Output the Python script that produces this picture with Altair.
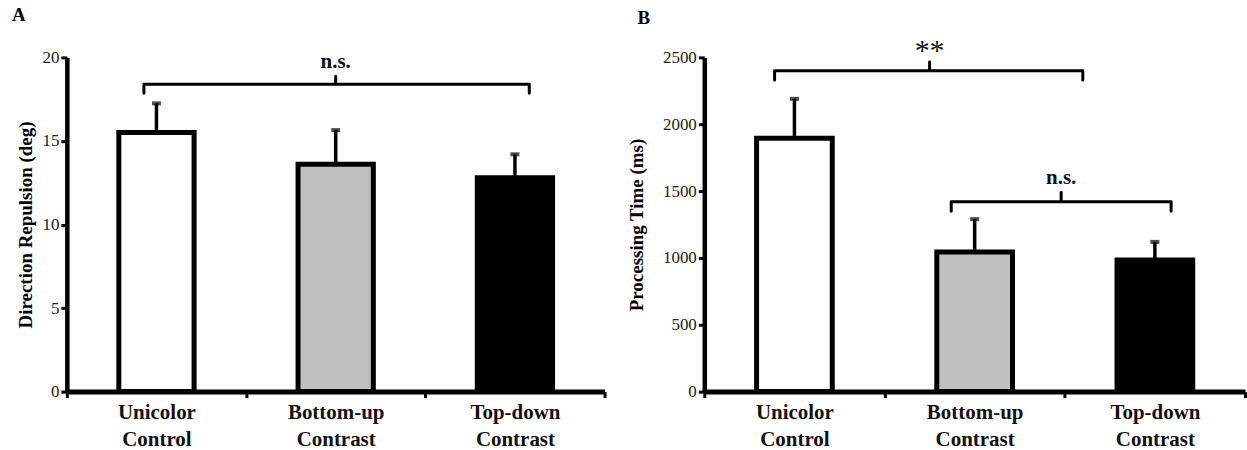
import altair as alt
import pandas as pd

# Conditions shown on the x axis of both panels
conditions = ["Unicolor Control", "Bottom-up Contrast", "Top-down Contrast"]
fills = ["#ffffff", "#c0c0c0", "#000000"]

# Panel A: direction repulsion (deg), mean and SEM
repulsion_mean = [15.5, 13.6, 12.8]
repulsion_sem = [1.75, 2.05, 1.4]

# Panel B: processing time (ms), mean and SEM
time_mean = [1895, 1045, 985]
time_sem = [295, 245, 135]

# Significance brackets: left, right, centre (in condition units), level, drop, tip, text y, label
brackets_a = [dict(left=0.43, right=2.58, center=1.5, level=18.4, drop=17.85, tip=18.85,
                   text_y=19.75, label="n.s.")]
brackets_b = [dict(left=0.39, right=2.1, center=1.25, level=2400, drop=2330, tip=2465,
                   text_y=2545, label="**"),
              dict(left=1.37, right=2.59, center=1.98, level=1420, drop=1350, tip=1490,
                   text_y=1595, label="n.s.")]

BAR_HALF = 0.21
SERIF = "Liberation Serif"


def bar_frame(means, sems):
    rows = []
    for i, (name, m, s, f) in enumerate(zip(conditions, means, sems, fills)):
        rows.append(dict(cond=name, lo=i + 0.5 - BAR_HALF, hi=i + 0.5 + BAR_HALF,
                         mid=i + 0.5, mean=m, top=m + s, fill=f))
    return pd.DataFrame(rows)


def bracket_frame(brackets):
    rows = []
    for k, b in enumerate(brackets):
        path = [(b["left"], b["drop"]), (b["left"], b["level"]), (b["center"], b["level"]),
                (b["center"], b["tip"]), (b["center"], b["level"]), (b["right"], b["level"]),
                (b["right"], b["drop"])]
        for j, (x, y) in enumerate(path):
            rows.append(dict(k=k, order=j, x=x, y=y))
    return pd.DataFrame(rows)


def label_expr():
    parts = []
    for i, name in enumerate(conditions):
        words = name.split(" ")
        parts.append(f"datum.value == {i + 0.5} ? ['{words[0]}', '{words[1]}']")
    return " : ".join(parts) + " : ''"


def panel(means, sems, brackets, y_title, y_max, y_step, letter, title_pad, width,
          title_offset, title_dx):
    bars = bar_frame(means, sems)
    br = bracket_frame(brackets)
    txt = pd.DataFrame(brackets)

    x_axis = alt.Axis(
        values=[0, 0.5, 1, 1.5, 2, 2.5, 3],
        labelExpr=label_expr(),
        tickOpacity={"condition": {"test": "datum.value % 1 != 0", "value": 0}, "value": 1},
        title=None,
        labelFont=SERIF, labelFontSize=21, labelFontWeight="bold", labelColor="#111",
        labelLineHeight=27, labelPadding=4, labelBaseline="top",
        tickSize=6, tickWidth=3, tickColor="black",
        domainWidth=5, domainColor="black", grid=False, labelFlush=False,
        labelOverlap=False,
    )
    y_axis = alt.Axis(
        values=list(range(0, y_max + 1, y_step)), title=y_title, format="d",
        labelFont=SERIF, labelFontSize=17, labelColor="#222", labelPadding=2,
        titleFont=SERIF, titleFontSize=19, titleFontWeight="bold", titleColor="black",
        titlePadding=title_pad,
        tickSize=6, tickWidth=3, tickColor="black",
        domainWidth=4.5, domainColor="black", grid=False,
    )
    xs = alt.Scale(domain=[0, 3], nice=False, zero=False)
    ys = alt.Scale(domain=[0, y_max], nice=False)

    rect = alt.Chart(bars).mark_bar(stroke="black", strokeWidth=5).encode(
        x=alt.X("lo:Q", scale=xs, axis=x_axis),
        x2="hi:Q",
        y=alt.Y("mean:Q", scale=ys, axis=y_axis),
        y2=alt.datum(0),
        fill=alt.Fill("fill:N", scale=None),
    )
    err = alt.Chart(bars).mark_rule(color="black", strokeWidth=3.5).encode(
        x="mid:Q", y="mean:Q", y2="top:Q"
    )
    cap = alt.Chart(bars).mark_tick(color="black", orient="horizontal", size=9, thickness=4).encode(
        x="mid:Q", y="top:Q"
    )
    lines = alt.Chart(br).mark_line(color="black", strokeWidth=3, strokeJoin="round",
                                    strokeCap="round").encode(
        x="x:Q", y="y:Q", detail="k:N", order="order:Q"
    )
    ns = alt.Chart(txt[txt["label"] != "**"]).mark_text(
        font=SERIF, fontSize=21, fontWeight="bold", color="#111", baseline="middle"
    ).encode(x="center:Q", y="text_y:Q", text="label:N")
    stars = alt.Chart(txt[txt["label"] == "**"]).mark_text(
        font=SERIF, fontSize=30, color="#111", baseline="middle"
    ).encode(x="center:Q", y="text_y:Q", text="label:N")

    return alt.layer(rect, err, cap, lines, ns, stars).properties(
        width=width, height=335,
        title=alt.TitleParams(letter, anchor="start", frame="bounds", font=SERIF,
                              fontSize=19, fontWeight="bold", color="black",
                              offset=title_offset, dx=title_dx),
    )


chart_a = panel(repulsion_mean, repulsion_sem, brackets_a, "Direction Repulsion (deg)",
                20, 5, "A", 6, 539, 23, -5)
chart_b = panel(time_mean, time_sem, brackets_b, "Processing Time (ms)",
                2500, 500, "B", 16, 542, 8, 10)

chart = alt.hconcat(chart_a, chart_b, spacing=21).configure(
    padding={"left": 12, "top": 6, "right": 0, "bottom": 0},
    background="white",
).configure_view(stroke=None)

chart.save("out.html", embed_options={"renderer": "svg", "actions": False})
